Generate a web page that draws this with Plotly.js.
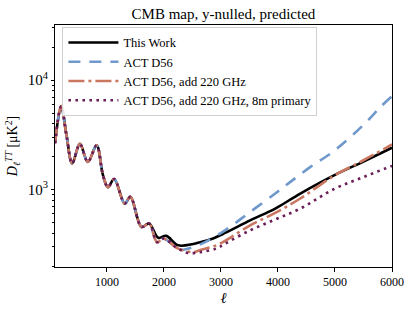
<!DOCTYPE html>
<html>
<head>
<meta charset="utf-8">
<script src="https://cdn.plot.ly/plotly-3.0.1.min.js"></script>
<style>html,body{margin:0;padding:0;background:#fff;}#chart{width:415px;height:311px;}</style>
</head>
<body>
<div id="chart"></div>
<script>
// Shared low-ell CMB part (all four curves)
const ellCommon = [90, 197, 290, 391, 525, 665, 819, 930, 1018, 1127, 1312, 1412, 1606, 1739];
const dCommon   = [2650, 5780, 3140, 1730, 2610, 1790, 2530, 1352, 1050, 1248, 745, 856, 455, 489];

// This Work (beyond common part)
const ellThisWork = [1900, 2040, 2250, 2514, 2636, 2808, 3072, 3512, 3952, 4392, 5000, 5500, 6000];
const dThisWork   = [362, 377, 309, 318, 330, 349, 401, 523, 670, 919, 1360, 1800, 2405];

// ACT curves shared part
const ellActShared = [1880, 1990, 2250];
const dActShared   = [330, 356, 288];

// ACT D56
const ellD56 = [2338, 2636, 3072, 3512, 3952, 4218, 4570, 5000, 5500, 5814, 6000];
const dD56   = [282, 315, 424, 624, 919, 1174, 1610, 2285, 3900, 5785, 7100];

// ACT D56, add 220 GHz
const ell220 = [2514, 2636, 2926, 3072, 3512, 3952, 4392, 5000, 5500, 6000];
const d220   = [268, 280, 310, 339, 471, 611, 828, 1352, 1850, 2580];

// ACT D56, add 220 GHz, 8m primary
const ell8m = [2420, 2640, 2926, 3072, 3512, 3952, 4392, 5000, 5500, 6000];
const d8m   = [263, 268, 290, 320, 424, 532, 670, 1020, 1300, 1645];

const seriesNames = ["This Work", "ACT D56", "ACT D56, add 220 GHz", "ACT D56, add 220 GHz, 8m primary"];
const seriesColors = ["#000000", "#6f98cb", "#c97760", "#6b1d57"];

const xTickVals = [1000, 2000, 3000, 4000, 5000, 6000];

const serif = "Liberation Serif, Times New Roman, serif";

function mk(ellParts, dParts, i, dash) {
  return {
    x: [].concat(...ellParts),
    y: [].concat(...dParts),
    type: "scatter",
    mode: "lines",
    name: seriesNames[i],
    line: {color: seriesColors[i], width: 2.6, dash: dash, shape: "spline", smoothing: 1},
    hoverinfo: "skip"
  };
}

const traces = [
  mk([ellCommon, ellThisWork], [dCommon, dThisWork], 0, "solid"),
  mk([ellCommon, ellActShared, ellD56], [dCommon, dActShared, dD56], 1, "12px,9px"),
  mk([ellCommon, ellActShared, ell220], [dCommon, dActShared, d220], 2, "16px,4px,3px,4px"),
  mk([ellCommon, ellActShared, ell8m], [dCommon, dActShared, d8m], 3, "2.6px,4.4px")
];

const layout = {
  width: 415, height: 311,
  margin: {l: 55, r: 23, t: 25, b: 44},
  paper_bgcolor: "#fff", plot_bgcolor: "#fff",
  font: {family: serif, size: 12, color: "#000"},
  title: {text: "CMB map, y-nulled, predicted", font: {family: serif, size: 15, color: "#000"},
          x: 0.5385, xanchor: "center", y: 0.955, yanchor: "middle"},
  xaxis: {
    range: [89, 6000], tickvals: xTickVals, ticktext: xTickVals.map(String),
    showline: true, mirror: true, linecolor: "#000", linewidth: 1,
    ticks: "outside", ticklen: 3.5, tickwidth: 1, tickcolor: "#000",
    showgrid: false, zeroline: false,
    tickfont: {family: serif, size: 12},
    title: {text: "<i>ℓ</i>", font: {family: serif, size: 15}, standoff: 4}
  },
  yaxis: {
    type: "log", range: [2.292, 4.503], dtick: 1, exponentformat: "power",
    showline: true, mirror: true, linecolor: "#000", linewidth: 1,
    ticks: "outside", ticklen: 3.5, tickwidth: 1, tickcolor: "#000",
    minor: {ticks: "outside", ticklen: 2, tickcolor: "#000", dtick: "D1", showgrid: false},
    showgrid: false, zeroline: false,
    tickfont: {family: serif, size: 12},
    title: {text: "<i>D</i><sub><i>ℓ</i></sub><sup><i>TT</i></sup> [μK<sup>2</sup>]", font: {family: serif, size: 14}, standoff: 6}
  },
  legend: {
    x: 0.022, y: 0.992, xanchor: "left", yanchor: "top",
    bgcolor: "rgba(255,255,255,0.85)", bordercolor: "#d0d0d0", borderwidth: 1,
    font: {family: serif, size: 12.5, color: "#000"},
    tracegroupgap: 0, itemwidth: 50
  },
  showlegend: true
};

Plotly.newPlot("chart", traces, layout, {displayModeBar: false, staticPlot: true});
</script>
</body>
</html>
